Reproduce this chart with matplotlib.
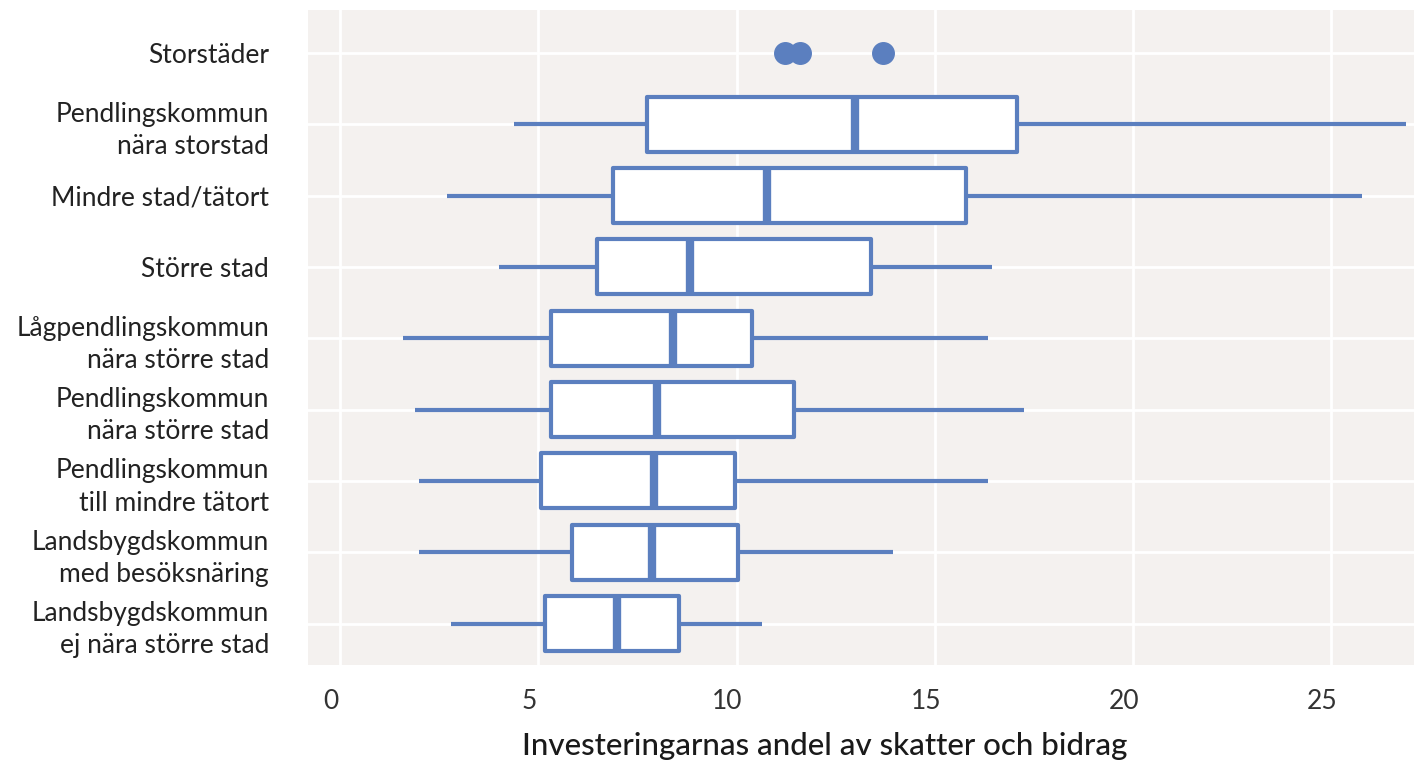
import matplotlib
matplotlib.use("Agg")
import matplotlib.pyplot as plt
import matplotlib.transforms as mtransforms

# rows from top to bottom
categories = [
    "Storstäder",
    "Pendlingskommun\nnära storstad",
    "Mindre stad/tätort",
    "Större stad",
    "Lågpendlingskommun\nnära större stad",
    "Pendlingskommun\nnära större stad",
    "Pendlingskommun\ntill mindre tätort",
    "Landsbygdskommun\nmed besöksnäring",
    "Landsbygdskommun\nej nära större stad",
]

# box statistics for rows 2..9 (Storstäder only has points)
whislo = [4.38, 2.70, 4.00, 1.59, 1.89, 1.99, 1.99, 2.80]
q1 = [7.73, 6.88, 6.47, 5.31, 5.31, 5.06, 5.84, 5.16]
med = [13.00, 10.76, 8.82, 8.39, 8.00, 7.93, 7.86, 6.98]
q3 = [17.08, 15.80, 13.40, 10.40, 11.44, 9.95, 10.05, 8.54]
whishi = [26.90, 25.77, 16.45, 16.35, 17.25, 16.35, 13.95, 10.65]

storstader_points = [11.22, 11.60, 13.70]

blue = "#5b7fbf"
bg = "#f4f1ef"

plt.rcParams["font.family"] = ["Lato", "DejaVu Sans"]

fig = plt.figure(figsize=(14.14, 7.63), dpi=100)
ax = fig.add_axes([0.2178, 0.1284, 0.7822, 0.8585])
ax.set_facecolor(bg)

stats = []
for i in range(len(med)):
    stats.append({
        "whislo": whislo[i], "q1": q1[i], "med": med[i],
        "q3": q3[i], "whishi": whishi[i], "fliers": [],
    })

ax.bxp(stats, positions=list(range(1, len(categories))), vert=False,
       widths=0.77, patch_artist=True, showcaps=False,
       boxprops=dict(facecolor="white", edgecolor=blue, linewidth=3,
                     joinstyle="round"),
       whiskerprops=dict(color=blue, linewidth=3, solid_capstyle="butt"),
       medianprops=dict(color=blue, linewidth=6, solid_capstyle="butt"),
       zorder=3)

ax.plot(storstader_points, [0] * len(storstader_points), "o",
        color=blue, markersize=15.5, zorder=3)

ax.set_xlim(-0.81, 27.09)
ax.set_ylim(len(categories) - 1 + 0.58, -0.6)
ax.set_xticks([0, 5, 10, 15, 20, 25])
ax.set_yticks(range(len(categories)))
ax.set_yticklabels(categories, fontsize=19, color="#222222", linespacing=1.36)
ax.tick_params(axis="x", labelsize=19, labelcolor="#333333", length=0, pad=17)
ax.tick_params(axis="y", length=0, pad=28)
ax.grid(True, color="white", linewidth=2)
ax.set_axisbelow(True)
for s in ax.spines.values():
    s.set_visible(False)

# x tick labels sit a little left of their gridlines in the original
shift = mtransforms.ScaledTranslation(-9 / 100, 0, fig.dpi_scale_trans)
for lab in ax.get_xticklabels():
    lab.set_transform(lab.get_transform() + shift)

ax.set_xlabel("Investeringarnas andel av skatter och bidrag", fontsize=22.5,
              fontweight="medium", color="#1a1a1a")
ax.xaxis.set_label_coords(0.467, -0.102)
ax.xaxis.label.set_va("top")

fig.savefig("out.png", dpi=100, facecolor="white")
